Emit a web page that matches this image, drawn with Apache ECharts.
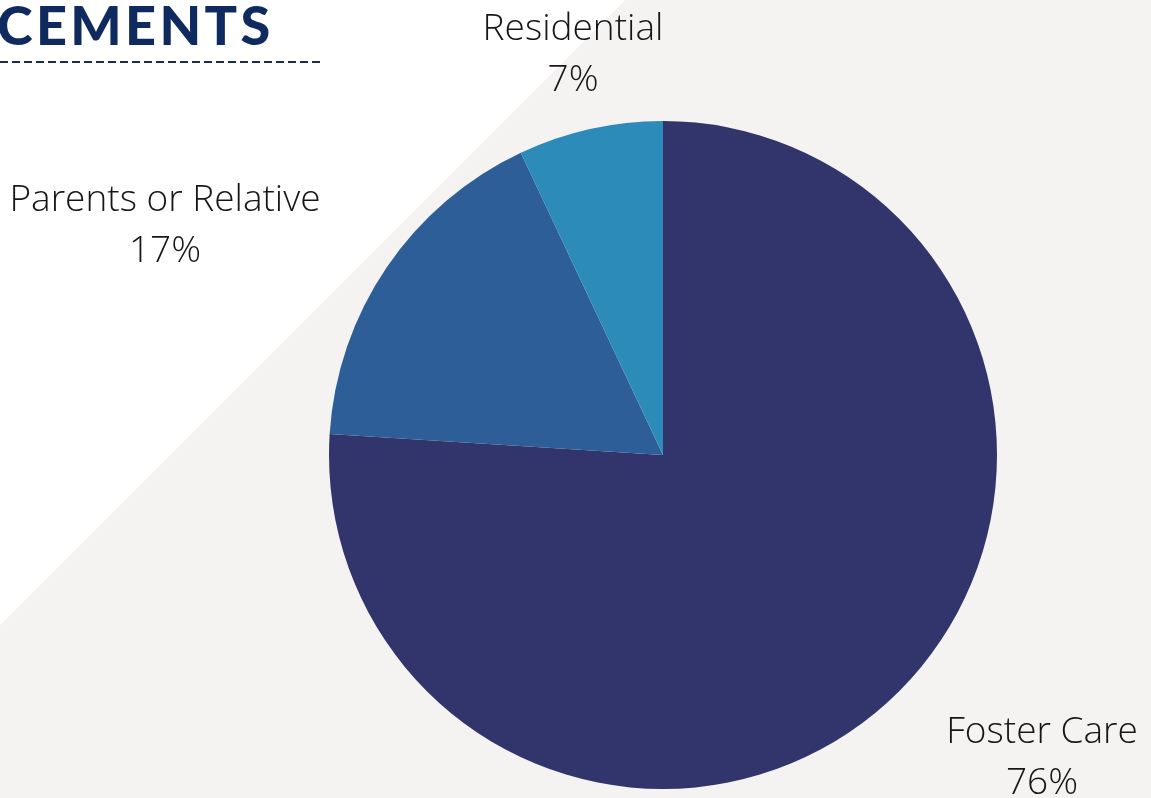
<!DOCTYPE html>
<html><head><meta charset="utf-8">
<script src="https://cdn.jsdelivr.net/npm/echarts@6/dist/echarts.min.js"></script>
<style>html,body{margin:0;padding:0;background:#fff}#c{width:1151px;height:798px}</style>
</head><body><div id="c"></div>
<script>
const categories = ['Foster Care', 'Parents or Relative', 'Residential'];
const values = [76, 17, 7];
const colors = ['#31356b', '#2e5e97', '#2d8bba'];
const labelPos = [[1042, 758], [165, 226], [573, 55]];

const chart = echarts.init(document.getElementById('c'), null, {renderer: 'canvas'});
chart.setOption({
  animation: false,
  backgroundColor: '#ffffff',
  graphic: [
    {type: 'polygon', z: -10, shape: {points: [[625, 0], [1151, 0], [1151, 798], [0, 798], [0, 625]]}, style: {fill: '#f4f3f2'}},
    {type: 'text', left: -3, top: 1, style: {text: 'C\u200AE\u200AM\u200AE\u200AN\u200AT\u200AS', font: '900 54px Lato', fill: '#0f2a5e'}},
    {type: 'line', shape: {x1: 0, y1: 62, x2: 321, y2: 62}, style: {stroke: '#1b2a5a', lineWidth: 2, lineDash: [8, 4]}}
  ],
  series: [{
    type: 'pie',
    center: [663, 455],
    radius: 334,
    startAngle: 90,
    clockwise: true,
    data: categories.map((c, i) => ({name: c, value: values[i], itemStyle: {color: colors[i]}})),
    label: {
      show: true,
      formatter: p => p.name + '\n' + p.value + '%',
      fontFamily: 'Open Sans',
      fontWeight: 300,
      fontSize: 37,
      lineHeight: 51,
      color: '#161616',
      align: 'center'
    },
    labelLine: {show: false},
    labelLayout: p => ({x: labelPos[p.dataIndex][0], y: labelPos[p.dataIndex][1], align: 'center', verticalAlign: 'middle'}),
    emphasis: {disabled: true}
  }]
});
</script></body></html>
